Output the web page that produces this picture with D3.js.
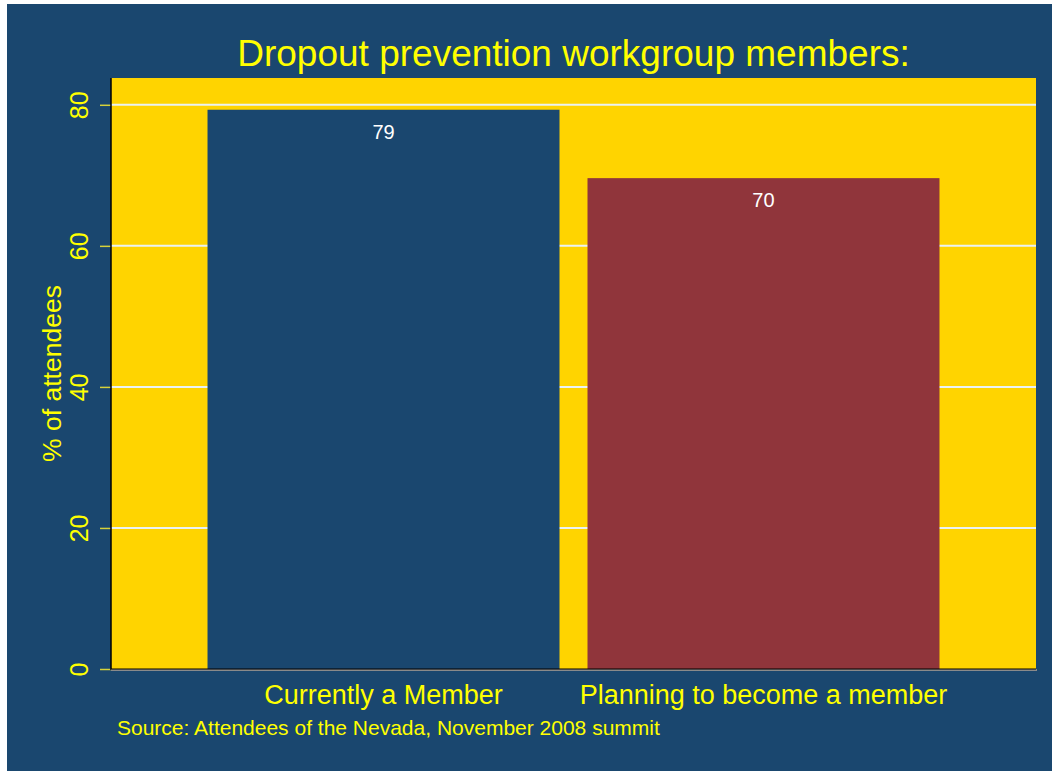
<!DOCTYPE html>
<html><head><meta charset="utf-8">
<script src="https://cdn.jsdelivr.net/npm/d3@7"></script>
<style>body{margin:0;background:#fff}svg{display:block}</style>
</head><body>
<script>
const categories = ["Currently a Member", "Planning to become a member"];
const values = [79.3, 69.6];
const valueLabels = ["79", "70"];
const yTicks = [0, 20, 40, 60, 80];
const barColors = ["#1a476f", "#90353b"];
const title = "Dropout prevention workgroup members:";
const yLabel = "% of attendees";
const note = "Source: Attendees of the Nevada, November 2008 summit";

const W = 1052, H = 771;
const svg = d3.select("body").append("svg").attr("width", W).attr("height", H)
  .style("font-family", "Liberation Sans, Arial, sans-serif");
svg.append("rect").attr("x", 7).attr("y", 4).attr("width", W - 7).attr("height", H - 4).attr("fill", "#1a476f");

const L = 111, R = 1036, T = 78, B = 669;
const y = d3.scaleLinear().domain([0, 83.8]).range([B, T]);
const x = d3.scaleBand().domain(categories).range([L, R]).paddingInner(0.0737).paddingOuter(0.254);

svg.append("rect").attr("x", L).attr("y", T).attr("width", R - L).attr("height", B - T).attr("fill", "#ffd400");

// gridlines
svg.append("g").selectAll("line").data(yTicks.filter(d => d > 0)).join("line")
  .attr("x1", L).attr("x2", R).attr("y1", d => y(d)).attr("y2", d => y(d))
  .attr("stroke", "#eaf2f3").attr("stroke-width", 2);

// bars
svg.append("g").selectAll("rect").data(values).join("rect")
  .attr("x", (d, i) => x(categories[i])).attr("width", x.bandwidth())
  .attr("y", d => y(d)).attr("height", d => B - y(d))
  .attr("fill", (d, i) => barColors[i]);

svg.append("g").selectAll("text").data(values).join("text")
  .attr("x", (d, i) => x(categories[i]) + x.bandwidth() / 2)
  .attr("y", d => y(d) + 29)
  .attr("text-anchor", "middle").attr("fill", "#ffffff").attr("font-size", 20)
  .text((d, i) => valueLabels[i]);

// y axis
const yAxis = d3.axisLeft(y).tickValues(yTicks).tickSize(11).tickPadding(0);
const ga = svg.append("g").attr("transform", `translate(${L},0)`).call(yAxis);
ga.select(".domain").remove();
ga.selectAll(".tick line").attr("stroke", "#d7d23a").attr("stroke-width", 1.5);
ga.selectAll(".tick text").attr("fill", "#ffff00").attr("font-size", 25)
  .attr("transform", "translate(-32,0) rotate(-90)").attr("text-anchor", "middle").attr("x", 0).attr("dy", "0.35em");
svg.append("line").attr("x1", L).attr("x2", L).attr("y1", T).attr("y2", B + 1).attr("stroke", "#000").attr("stroke-width", 1.5);

// x axis
svg.append("line").attr("x1", L).attr("x2", R + 1).attr("y1", B + 1).attr("y2", B + 1).attr("stroke", "#8a8a8a").attr("stroke-width", 2);
svg.append("line").attr("x1", L).attr("x2", R).attr("y1", B).attr("y2", B).attr("stroke", "#000").attr("stroke-width", 1);
const xAxis = d3.axisBottom(x).tickSize(0).tickPadding(0);
const gx = svg.append("g").attr("transform", `translate(0,${B})`).call(xAxis);
gx.select(".domain").remove();
gx.selectAll(".tick text").attr("fill", "#ffff00").attr("font-size", 27).attr("dy", 0).attr("y", 35);

// labels
svg.append("text").attr("x", (L + R) / 2).attr("y", 66).attr("text-anchor", "middle")
  .attr("fill", "#ffff00").attr("font-size", 37).text(title);
svg.append("text").attr("transform", `translate(61,${(T + B) / 2}) rotate(-90)`).attr("text-anchor", "middle")
  .attr("fill", "#ffff00").attr("font-size", 26.5).text(yLabel);
svg.append("text").attr("x", 117).attr("y", 735).attr("fill", "#ffff00").attr("font-size", 21).text(note);
</script>
</body></html>
